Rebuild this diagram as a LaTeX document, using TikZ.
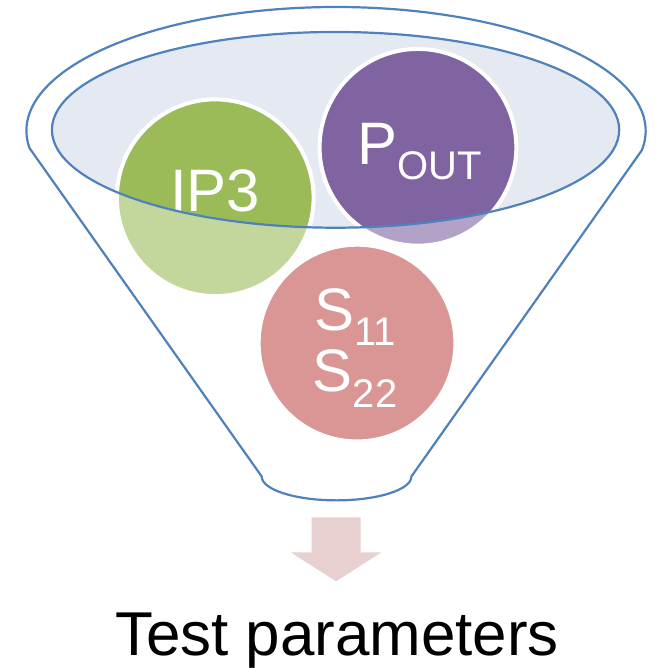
\documentclass[tikz,border=0pt]{standalone}
\usepackage{fontspec}
\setmainfont{Liberation Sans}
\usetikzlibrary{positioning}
\definecolor{rimblue}{HTML}{4F81BD}
\definecolor{mouthfill}{HTML}{E4E9F2}
\definecolor{ipgreen}{HTML}{9BBB59}
\definecolor{outpurple}{HTML}{8064A2}
\definecolor{sred}{HTML}{C0504D}
\definecolor{arrowpink}{HTML}{E8D0D1}
\newcommand{\subtext}[2][15pt]{\raisebox{-#1}{\fontsize{40}{42}\selectfont #2}}

\begin{document}
\begin{tikzpicture}[x=1pt,y=-1pt,
	ball/.style={circle,draw=white,line width=4pt,minimum size=197pt,inner sep=0pt},
	big/.style={text=white,font=\fontsize{60}{62}\selectfont,anchor=base,inner sep=0pt},
	rim/.style={draw=rimblue,line width=2.2pt}]
		\fill[white] (0,0) rectangle (651,668);
		\coordinate										(mouth)	at (336,130);
		\coordinate										(rim)	at (336.5,131);
		\fill[mouthfill] (mouth) ellipse [x radius=284,y radius=98];

		\node[ball,fill=ipgreen]						(ip3)	at (215.5,198)	{};
		\node[ball,fill=outpurple]						(pout)	at (418.5,147.5)	{};
		\node[ball,fill=sred]							(s)		at (357.5,343.5)	{};

		\node[big]						(ip3 text)	at ([yshift=-14pt]ip3.center)	{IP3};
		\node[big]						(pout text)	at ([xshift=2pt,yshift=-17pt]pout.center)	{P\subtext{OUT}};
		\node[big]						(s11)		at ([xshift=-2pt,yshift=13pt]s.center)	{S\subtext{11}};
		\node[big]						(s22)		at ([yshift=-62pt]s11.base)	{S\subtext[16pt]{22}};

		\fill[white,fill opacity=0.4,even odd rule] (0,0) rectangle (651,668) (mouth) ellipse [x radius=284,y radius=98];
		\draw[rim] (mouth) ellipse [x radius=284,y radius=98];

		\draw[rim] (rim) ++(172:310 and 124) coordinate (tl)
			arc [start angle=172,end angle=369,x radius=310,y radius=124] coordinate (tr)
			-- (412,477) coordinate (br)
			arc [start angle=0,end angle=180,x radius=75,y radius=24] coordinate (bl)
			-- cycle;

		\fill[arrowpink] (312,518) -- (361,518) -- (361,553) -- (382,553) -- (336.5,582) coordinate (tip)
			-- (291,553) -- (312,553) -- cycle;

		\node[big,text=black,font=\fontsize{62}{64}\selectfont]	(caption)	at (337.5,656)	{Test parameters};
	\end{tikzpicture}
\end{document}
